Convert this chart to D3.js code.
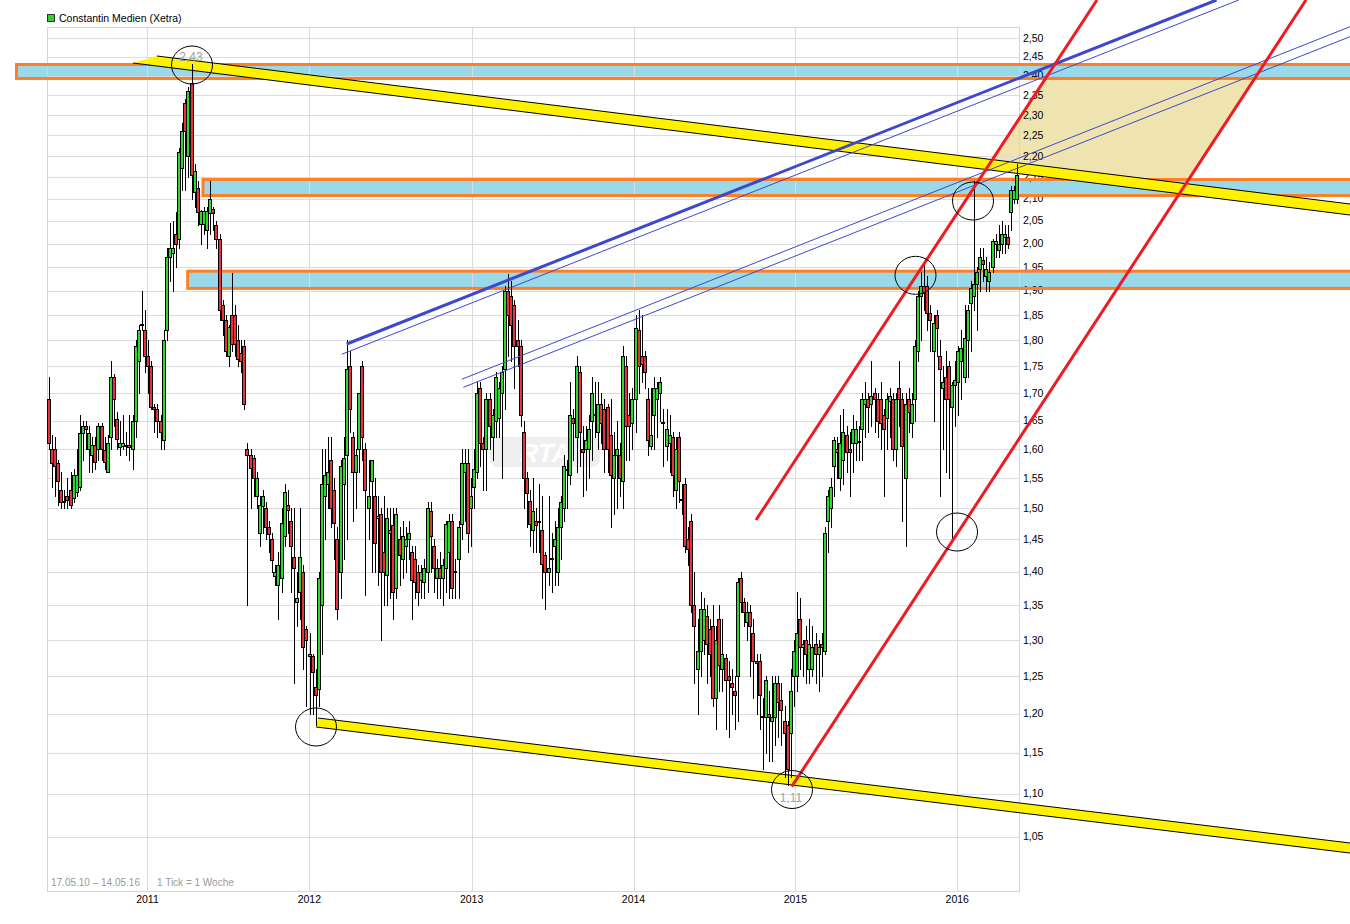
<!DOCTYPE html>
<html><head><meta charset="utf-8">
<script src="https://cdn.jsdelivr.net/npm/d3@7"></script>
<style>body{margin:0;background:#fff}svg{display:block}text{font-family:"Liberation Sans",Arial,sans-serif}</style>
</head><body><svg id="c" width="1350" height="924"></svg>
<script>
// ---------- texts ----------
const titleText = "Constantin Medien (Xetra)";
const footerRange = "17.05.10 – 14.05.16";
const footerTick = "1 Tick = 1 Woche";
const watermarkText = "RTA";
// ---------- axes ----------
const yearTicks = ["2011","2012","2013","2014","2015","2016"];
const priceTicks = [1.05,1.10,1.15,1.20,1.25,1.30,1.35,1.40,1.45,1.50,1.55,1.60,1.65,1.70,1.75,1.80,1.85,1.90,1.95,2.00,2.05,2.10,2.15,2.20,2.25,2.30,2.35,2.40,2.45,2.50];
// ---------- weekly candles [open, high, low, close], first week 17.05.2010 ----------
const ohlc2010 = [
[1.69,1.73,1.60,1.61],[1.60,1.625,1.535,1.575],[1.60,1.62,1.52,1.57],[1.575,1.58,1.505,1.545],[1.53,1.56,1.50,1.51],
[1.51,1.53,1.50,1.512],[1.52,1.55,1.50,1.514],[1.53,1.56,1.50,1.505],[1.517,1.565,1.51,1.555],[1.527,1.60,1.52,1.555],
[1.535,1.66,1.53,1.628],[1.628,1.65,1.58,1.64],[1.64,1.65,1.60,1.635],[1.60,1.64,1.56,1.628],[1.59,1.62,1.56,1.606],
[1.606,1.62,1.565,1.578],[1.60,1.645,1.58,1.64],[1.64,1.645,1.58,1.60],[1.598,1.62,1.565,1.578],[1.56,1.625,1.56,1.611],
[1.62,1.76,1.60,1.73],[1.73,1.735,1.64,1.69],[1.653,1.665,1.60,1.618],[1.603,1.65,1.59,1.61],[1.605,1.66,1.60,1.61],
[1.605,1.63,1.59,1.606],[1.606,1.66,1.58,1.603],[1.60,1.66,1.565,1.65],[1.65,1.80,1.62,1.79],[1.76,1.83,1.70,1.82],
[1.83,1.90,1.82,1.832],[1.82,1.86,1.74,1.77],[1.77,1.80,1.70,1.75]];
const ohlc2011 = [
[1.75,1.76,1.67,1.675],[1.675,1.68,1.63,1.67],[1.67,1.68,1.62,1.65],[1.65,1.66,1.60,1.63],[1.615,1.82,1.60,1.80],
[1.82,1.99,1.80,1.97],[1.97,2.045,1.92,1.99],[1.98,2.05,1.90,1.99],[2.02,2.07,1.95,2.00],[2.01,2.22,1.99,2.21],
[2.17,2.28,2.12,2.26],[2.33,2.34,2.12,2.26],[2.20,2.37,2.15,2.36],[2.38,2.43,2.10,2.155],[2.115,2.18,2.08,2.165],
[2.125,2.14,2.04,2.07],[2.042,2.075,2.00,2.072],[2.042,2.08,2.02,2.072],[2.03,2.08,1.99,2.072],[2.068,2.14,2.02,2.10],
[2.076,2.08,2.03,2.068],[2.04,2.05,1.99,2.01],[2.01,2.02,1.84,1.86],[1.87,1.88,1.81,1.84],[1.84,1.85,1.77,1.78],
[1.77,1.83,1.75,1.826],[1.85,1.938,1.78,1.793],[1.85,1.87,1.77,1.793],[1.80,1.83,1.75,1.765],[1.776,1.80,1.74,1.76],
[1.79,1.80,1.67,1.68],[1.60,1.61,1.35,1.59],[1.59,1.60,1.50,1.567],[1.584,1.59,1.52,1.55],[1.52,1.56,1.50,1.55],
[1.46,1.52,1.44,1.506],[1.504,1.53,1.46,1.52],[1.50,1.51,1.45,1.47],[1.47,1.48,1.43,1.458],[1.45,1.46,1.40,1.418],
[1.394,1.41,1.38,1.40],[1.38,1.43,1.33,1.41],[1.39,1.50,1.37,1.476],[1.455,1.54,1.44,1.527],[1.505,1.53,1.46,1.498],
[1.48,1.50,1.37,1.44],[1.423,1.50,1.24,1.405],[1.355,1.40,1.32,1.36],[1.37,1.50,1.33,1.423],[1.40,1.41,1.26,1.29],
[1.315,1.32,1.21,1.30],[1.277,1.31,1.20,1.28]];
const ohlc2012 = [
[1.277,1.28,1.20,1.255],[1.235,1.26,1.185,1.225],[1.232,1.40,1.21,1.39],[1.35,1.60,1.28,1.54],[1.52,1.60,1.45,1.555],
[1.54,1.62,1.50,1.56],[1.58,1.62,1.47,1.50],[1.53,1.55,1.42,1.476],[1.45,1.47,1.33,1.345],[1.40,1.58,1.36,1.57],
[1.54,1.62,1.42,1.585],[1.59,1.80,1.45,1.745],[1.75,1.78,1.63,1.67],[1.62,1.63,1.48,1.56],[1.56,1.60,1.50,1.59],
[1.60,1.70,1.56,1.70],[1.75,1.76,1.58,1.62],[1.60,1.61,1.365,1.53],[1.50,1.58,1.45,1.52],[1.545,1.58,1.40,1.58],
[1.52,1.55,1.40,1.445],[1.485,1.52,1.38,1.487],[1.49,1.50,1.30,1.40],[1.43,1.52,1.35,1.40],[1.395,1.50,1.35,1.485],
[1.46,1.50,1.36,1.465],[1.473,1.50,1.33,1.37],[1.375,1.50,1.36,1.49],[1.45,1.47,1.38,1.425],[1.42,1.48,1.39,1.455],
[1.44,1.47,1.40,1.45],[1.45,1.48,1.42,1.46],[1.43,1.44,1.33,1.387],[1.42,1.44,1.36,1.385],[1.40,1.41,1.35,1.37],
[1.387,1.41,1.36,1.40],[1.385,1.42,1.36,1.405],[1.40,1.51,1.37,1.50],[1.495,1.51,1.40,1.455],[1.44,1.45,1.37,1.405],
[1.39,1.42,1.36,1.405],[1.405,1.43,1.36,1.39],[1.39,1.42,1.35,1.41],[1.405,1.48,1.37,1.475],[1.43,1.49,1.36,1.48],
[1.48,1.49,1.36,1.375],[1.40,1.42,1.36,1.401],[1.42,1.48,1.36,1.47],[1.475,1.60,1.45,1.575],[1.56,1.60,1.48,1.575],
[1.575,1.60,1.43,1.46],[1.50,1.55,1.44,1.52]];
const ohlc2013 = [
[1.535,1.60,1.50,1.565],[1.56,1.72,1.55,1.70],[1.71,1.72,1.57,1.61],[1.61,1.62,1.53,1.60],[1.60,1.70,1.53,1.69],
[1.69,1.70,1.60,1.64],[1.62,1.67,1.58,1.66],[1.65,1.74,1.62,1.73],[1.655,1.72,1.62,1.71],[1.70,1.75,1.55,1.74],
[1.745,1.91,1.67,1.90],[1.90,1.935,1.77,1.85],[1.89,1.92,1.76,1.83],[1.87,1.88,1.71,1.79],[1.80,1.84,1.75,1.79],
[1.79,1.80,1.64,1.66],[1.63,1.65,1.50,1.55],[1.55,1.56,1.47,1.525],[1.512,1.53,1.44,1.475],[1.465,1.55,1.43,1.495],
[1.48,1.50,1.43,1.473],[1.478,1.54,1.43,1.48],[1.465,1.52,1.36,1.412],[1.425,1.43,1.345,1.40],[1.40,1.52,1.38,1.405],
[1.42,1.46,1.37,1.421],[1.44,1.48,1.38,1.45],[1.40,1.50,1.38,1.47],[1.47,1.52,1.42,1.51],[1.50,1.59,1.48,1.57],
[1.563,1.58,1.50,1.565],[1.555,1.72,1.54,1.66],[1.655,1.67,1.58,1.645],[1.62,1.77,1.56,1.75],[1.74,1.75,1.57,1.63],
[1.60,1.64,1.52,1.595],[1.60,1.64,1.53,1.615],[1.60,1.66,1.55,1.635],[1.65,1.73,1.58,1.70],[1.66,1.72,1.62,1.661],
[1.63,1.72,1.60,1.68],[1.68,1.70,1.61,1.645],[1.67,1.69,1.56,1.60],[1.675,1.68,1.56,1.60],[1.625,1.69,1.47,1.555],
[1.55,1.63,1.49,1.59],[1.59,1.65,1.50,1.60],[1.59,1.61,1.52,1.55],[1.545,1.79,1.50,1.77],[1.75,1.77,1.58,1.64],
[1.66,1.70,1.58,1.64],[1.645,1.71,1.60,1.69]];
const ohlc2014 = [
[1.69,1.85,1.63,1.825],[1.82,1.86,1.70,1.75],[1.77,1.85,1.72,1.755],[1.77,1.78,1.71,1.74],[1.69,1.71,1.59,1.615],
[1.605,1.71,1.60,1.625],[1.66,1.73,1.60,1.71],[1.69,1.72,1.62,1.71],[1.70,1.73,1.65,1.72],[1.645,1.67,1.57,1.648],
[1.605,1.67,1.58,1.635],[1.61,1.66,1.56,1.625],[1.62,1.63,1.52,1.555],[1.53,1.62,1.50,1.60],[1.62,1.63,1.51,1.545],
[1.513,1.54,1.49,1.515],[1.54,1.55,1.43,1.44],[1.45,1.47,1.41,1.435],[1.48,1.49,1.34,1.35],[1.35,1.40,1.24,1.32],
[1.26,1.33,1.20,1.285],[1.285,1.37,1.25,1.345],[1.30,1.36,1.28,1.345],[1.335,1.35,1.24,1.295],[1.315,1.33,1.25,1.28],
[1.32,1.35,1.21,1.22],[1.22,1.32,1.18,1.30],[1.33,1.35,1.23,1.265],[1.26,1.33,1.23,1.28],[1.275,1.28,1.18,1.245],
[1.25,1.27,1.17,1.245],[1.24,1.26,1.20,1.235],[1.23,1.25,1.18,1.225],[1.25,1.39,1.19,1.385],[1.39,1.40,1.34,1.355],
[1.355,1.36,1.32,1.34],[1.325,1.355,1.30,1.34],[1.34,1.35,1.25,1.32],[1.31,1.33,1.22,1.27],[1.27,1.28,1.20,1.268],
[1.27,1.28,1.18,1.225],[1.195,1.22,1.13,1.197],[1.195,1.25,1.15,1.245],[1.20,1.23,1.14,1.195],[1.19,1.25,1.14,1.195],
[1.195,1.25,1.16,1.24],[1.24,1.25,1.17,1.215],[1.218,1.24,1.16,1.205],[1.19,1.21,1.12,1.175],[1.185,1.19,1.11,1.13],
[1.175,1.26,1.12,1.23],[1.25,1.30,1.21,1.285],[1.25,1.37,1.23,1.31]];
const ohlc2015 = [
[1.33,1.36,1.26,1.29],[1.29,1.30,1.25,1.295],[1.30,1.32,1.24,1.28],[1.26,1.33,1.24,1.295],[1.26,1.32,1.25,1.29],
[1.295,1.31,1.24,1.28],[1.28,1.30,1.23,1.29],[1.295,1.31,1.25,1.29],[1.285,1.47,1.28,1.46],[1.48,1.53,1.43,1.52],
[1.50,1.55,1.47,1.535],[1.57,1.62,1.52,1.615],[1.60,1.62,1.55,1.595],[1.55,1.66,1.53,1.61],[1.58,1.67,1.54,1.63],
[1.625,1.64,1.56,1.595],[1.60,1.63,1.52,1.595],[1.61,1.66,1.56,1.635],[1.61,1.65,1.58,1.635],[1.612,1.64,1.58,1.614],
[1.635,1.70,1.58,1.69],[1.68,1.72,1.62,1.69],[1.69,1.70,1.63,1.675],[1.68,1.76,1.64,1.695],[1.70,1.71,1.63,1.69],
[1.69,1.70,1.62,1.65],[1.69,1.72,1.60,1.645],[1.66,1.67,1.52,1.635],[1.655,1.70,1.60,1.69],[1.685,1.71,1.62,1.695],
[1.69,1.70,1.58,1.60],[1.60,1.70,1.57,1.69],[1.71,1.76,1.64,1.69],[1.69,1.70,1.48,1.605],[1.55,1.70,1.44,1.68],
[1.69,1.71,1.63,1.665],[1.645,1.70,1.62,1.68],[1.69,1.80,1.65,1.79],[1.78,1.90,1.76,1.89],[1.89,1.94,1.80,1.91],
[1.91,1.96,1.86,1.895],[1.91,1.93,1.82,1.855],[1.855,1.87,1.78,1.84],[1.78,1.85,1.65,1.834],[1.85,1.86,1.77,1.825],
[1.77,1.80,1.52,1.745],[1.71,1.75,1.60,1.72],[1.73,1.78,1.56,1.69],[1.75,1.76,1.55,1.69],[1.675,1.72,1.45,1.715],
[1.715,1.76,1.64,1.725],[1.72,1.79,1.66,1.78]];
const ohlc2016 = [
[1.76,1.82,1.69,1.785],[1.73,1.87,1.72,1.805],[1.80,1.87,1.73,1.86],[1.875,1.92,1.78,1.905],[1.89,2.14,1.86,1.915],
[1.915,1.95,1.82,1.94],[1.945,1.99,1.90,1.97],[1.965,1.99,1.92,1.955],[1.93,1.97,1.90,1.945],[1.92,1.96,1.90,1.94],
[1.95,2.01,1.94,2.005],[2.00,2.02,1.97,2.005],[1.985,2.04,1.97,2.00],[2.00,2.05,1.98,2.02],[2.015,2.04,1.98,2.02],
[2.015,2.04,1.99,2.00],[2.07,2.13,2.03,2.12],[2.10,2.13,2.09,2.12],[2.10,2.18,2.09,2.155]];
// ---------- drawn annotations, in [week index, price] ----------
const resistanceBands = [[-10.40,425,2.4296,2.3929],[49.68,425,2.1441,2.1072],[44.75,425,1.9408,1.9048]];
const upperYellowBand = [[27.13,2.4335],[34.86,2.4521],[419.16,2.0878],[419.16,2.0630]];
const lowerYellowBand = [[86.08,1.1827],[86.73,1.1943],[419.16,1.0426],[419.16,1.0313]];
const targetZone = [[320.49,2.3890],[388.11,2.3890],[367.46,2.1476],[350.55,2.1476],[303.65,2.1903]];
const redLines = [[[227.82,1.4810],[337.67,2.6060]],[[239.32,1.1084],[404.99,2.6060]]];
const blueThickLine = [[95.97,1.7932],[376.16,2.6060]];
const blueThinLines = [[[94.36,1.7732],[383.31,2.6060]],[[133.02,1.7257],[419.16,2.5314]],[[133.53,1.7107],[419.16,2.5041]]];
const circleMarks = [[46.14,2.4282],[86.08,1.1827],[239.42,1.1050],[279.20,1.9321],[297.72,2.0946],[292.57,1.4618]];
const circleLabels = [[45.81,2.4494,"2,43"],[239.09,1.0948,"1,11"]];
const watermarkBox = [[142.13,1.6208],[177.57,1.5688]];

// ---------- scales ----------
const candles = [].concat(ohlc2010, ohlc2011, ohlc2012, ohlc2013, ohlc2014, ohlc2015, ohlc2016);
const svg = d3.select("#c");
const L = 47, R = 1020, T = 27, B = 891;
const x = d3.scaleTime().domain([new Date(2010,4,15), new Date(2016,4,17)]).range([L, R]);
const y = d3.scaleLog().domain([1.05, 2.5]).range([836.5, 38.2]);
const week0 = new Date(2010,4,17);
const wx = w => x(new Date(week0.getTime() + (7*w + 2) * 864e5));
const P = d => [wx(d[0]), y(d[1])];
const fmt = v => v.toFixed(2).replace(".", ",");

// target zone
svg.append("polygon").attr("points", targetZone.map(P).join(" ")).attr("fill", "#efe4b0");
// band fills
svg.append("g").selectAll("rect").data(resistanceBands).join("rect")
  .attr("x", d => wx(d[0])).attr("y", d => y(d[2]))
  .attr("width", d => wx(d[1]) - wx(d[0])).attr("height", d => y(d[3]) - y(d[2]))
  .attr("fill", "#99d9ea");
// grid
const grid = svg.append("g").attr("stroke", "#dcdcdc").attr("stroke-width", 1).attr("shape-rendering", "crispEdges");
grid.selectAll("line.h").data(priceTicks).join("line").attr("class","h")
  .attr("x1", L).attr("x2", R).attr("y1", d => Math.round(y(d)) + 0.5).attr("y2", d => Math.round(y(d)) + 0.5);
grid.selectAll("line.v").data(yearTicks).join("line").attr("class","v")
  .attr("x1", d => Math.round(x(new Date(+d,0,1))) - 1.5).attr("x2", d => Math.round(x(new Date(+d,0,1))) - 1.5)
  .attr("y1", T).attr("y2", B);
svg.append("rect").attr("x", L + 0.5).attr("y", T + 0.5).attr("width", R - L - 1).attr("height", B - T)
  .attr("fill", "none").attr("stroke", "#d4d4d4").attr("shape-rendering", "crispEdges");
// axis labels
svg.append("g").selectAll("text").data(priceTicks).join("text")
  .attr("x", R + 3).attr("y", d => y(d)).attr("dy", "0.35em")
  .attr("font-size", 10.5).attr("fill", "#000").text(fmt);
svg.append("g").selectAll("text").data(yearTicks).join("text")
  .attr("x", d => x(new Date(+d,0,1)) - 2).attr("y", 903).attr("text-anchor", "middle")
  .attr("font-size", 10.5).attr("fill", "#000").text(d => d);
// band borders
svg.append("g").selectAll("rect").data(resistanceBands).join("rect")
  .attr("x", d => wx(d[0])).attr("y", d => y(d[2]))
  .attr("width", d => wx(d[1]) - wx(d[0])).attr("height", d => y(d[3]) - y(d[2]))
  .attr("fill", "none").attr("stroke", "#ff7f27").attr("stroke-width", 3);
// watermark
const wb = watermarkBox.map(P);
svg.append("rect").attr("x", wb[0][0]).attr("y", wb[0][1]).attr("width", wb[1][0] - wb[0][0]).attr("height", wb[1][1] - wb[0][1])
  .attr("rx", 8).attr("fill", "#efefef");
svg.append("text").attr("x", (wb[0][0] + wb[1][0]) / 2).attr("y", wb[1][1] - 5).attr("text-anchor", "middle")
  .attr("font-size", 26).attr("font-weight", "bold").attr("font-style", "italic").attr("fill", "#ffffff").text(watermarkText);
// yellow channel bands
[upperYellowBand, lowerYellowBand].forEach(b => {
  const p = b.map(P);
  svg.append("polygon").attr("points", p.join(" ")).attr("fill", "#fff200");
  svg.append("line").attr("x1", p[1][0]).attr("y1", p[1][1]).attr("x2", p[2][0]).attr("y2", p[2][1]).attr("stroke", "#000").attr("stroke-width", 1);
  svg.append("line").attr("x1", p[0][0]).attr("y1", p[0][1]).attr("x2", p[3][0]).attr("y2", p[3][1]).attr("stroke", "#000").attr("stroke-width", 1);
});
// candles
const cg = svg.append("g").attr("shape-rendering", "crispEdges");
candles.forEach((c, i) => {
  const cx = Math.round(wx(i));
  const [o, h, l, cl] = c;
  cg.append("line").attr("x1", cx + 0.5).attr("x2", cx + 0.5)
    .attr("y1", Math.round(y(h))).attr("y2", Math.round(y(l)) + 1).attr("stroke", "#000");
  const top = Math.round(y(Math.max(o, cl))), bot = Math.round(y(Math.min(o, cl)));
  cg.append("rect").attr("x", cx - 1.5).attr("y", top + 0.5)
    .attr("width", 3).attr("height", Math.max(1, bot - top))
    .attr("fill", cl >= o ? "#2fd72f" : "#e5333a").attr("stroke", "#000").attr("stroke-width", 1);
});
// blue trend lines
svg.append("line").attr("x1", P(blueThickLine[0])[0]).attr("y1", P(blueThickLine[0])[1])
  .attr("x2", P(blueThickLine[1])[0]).attr("y2", P(blueThickLine[1])[1]).attr("stroke", "#3f48cc").attr("stroke-width", 3);
blueThinLines.forEach(l => svg.append("line").attr("x1", P(l[0])[0]).attr("y1", P(l[0])[1])
  .attr("x2", P(l[1])[0]).attr("y2", P(l[1])[1]).attr("stroke", "#3f48cc").attr("stroke-width", 1));
// red channel
redLines.forEach(l => svg.append("line").attr("x1", P(l[0])[0]).attr("y1", P(l[0])[1])
  .attr("x2", P(l[1])[0]).attr("y2", P(l[1])[1]).attr("stroke", "#ed1c24").attr("stroke-width", 3));
// circles
svg.append("g").selectAll("ellipse").data(circleMarks).join("ellipse")
  .attr("cx", d => P(d)[0]).attr("cy", d => P(d)[1]).attr("rx", 20.5).attr("ry", 19)
  .attr("fill", "none").attr("stroke", "#000").attr("stroke-width", 1);
svg.append("g").selectAll("text").data(circleLabels).join("text")
  .attr("x", d => P(d)[0]).attr("y", d => P(d)[1]).attr("dy", "0.35em").attr("text-anchor", "middle")
  .attr("font-size", 12).attr("fill", "#a0a0a0").text(d => d[2]);
// legend & footer
svg.append("rect").attr("x", 47.5).attr("y", 14.5).attr("width", 7).attr("height", 7).attr("fill", "#33cc33").attr("stroke", "#333");
svg.append("text").attr("x", 59).attr("y", 22).attr("font-size", 10.5).attr("fill", "#000").text(titleText);
svg.append("text").attr("x", 51).attr("y", 886).attr("font-size", 10).attr("fill", "#999").text(footerRange);
svg.append("text").attr("x", 157).attr("y", 886).attr("font-size", 10).attr("fill", "#999").text(footerTick);
</script></body></html>
